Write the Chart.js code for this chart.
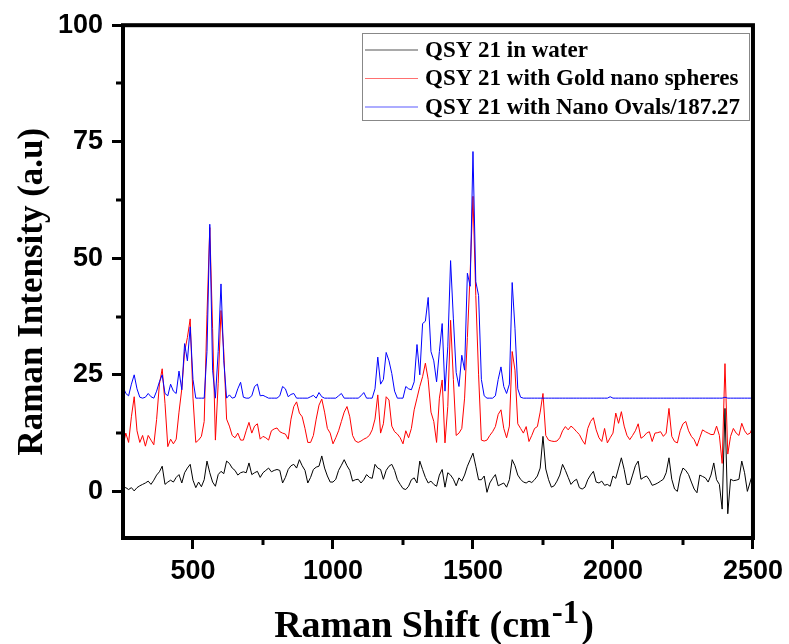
<!DOCTYPE html>
<html><head><meta charset="utf-8">
<script src="https://cdn.jsdelivr.net/npm/chart.js@4.4.1/dist/chart.umd.min.js"></script>
<style>html,body{margin:0;padding:0;background:#fff;}#wrap{width:789px;height:644px;}</style>
</head><body><div id="wrap"><canvas id="c" width="789" height="644"></canvas></div>
<script>
// Raman shift (cm-1)
const ramanShift = [
250,260,270,280,290,300,310,320,330,340,
350,360,370,380,390,400,410,420,430,440,
450,460,470,480,490,500,510,520,530,540,
550,560,570,580,590,600,610,620,630,640,
650,660,670,680,690,700,710,720,730,740,
750,760,770,780,790,800,810,820,830,840,
850,860,870,880,890,900,910,920,930,940,
950,960,970,980,990,1000,1010,1020,1030,1040,
1050,1060,1070,1080,1090,1100,1110,1120,1130,1140,
1150,1160,1170,1180,1190,1200,1210,1220,1230,1240,
1250,1260,1270,1280,1290,1300,1310,1320,1330,1340,
1350,1360,1370,1380,1390,1400,1410,1420,1430,1440,
1450,1460,1470,1480,1490,1500,1510,1520,1530,1540,
1550,1560,1570,1580,1590,1600,1610,1620,1630,1640,
1650,1660,1670,1680,1690,1700,1710,1720,1730,1740,
1750,1760,1770,1780,1790,1800,1810,1820,1830,1840,
1850,1860,1870,1880,1890,1900,1910,1920,1930,1940,
1950,1960,1970,1980,1990,2000,2010,2020,2030,2040,
2050,2060,2070,2080,2090,2100,2110,2120,2130,2140,
2150,2160,2170,2180,2190,2200,2210,2220,2230,2240,
2250,2260,2270,2280,2290,2300,2310,2320,2330,2340,
2350,2360,2370,2380,2390,2400,2410,2420,2430,2440,
2450,2460,2470,2480,2490,2500];

// QSY 21 in water
const waterIntensity = [
0.8,0.8,0.4,0.8,0.1,0.8,1.2,1.5,1.8,2.2,
1.5,2.4,3.5,4.2,5.4,1.5,2,2.4,2,3,
3.6,1.8,4,5,5.8,2.4,0.8,2,1,2.5,
6.5,4,2,1.1,3.6,4.3,3.8,6.5,6,5,
4.5,3.5,4,4.2,4,6.1,3.6,4,4.3,3,
4,4.5,5,4.2,4.5,4.7,4.5,1.8,3,4.7,
5.5,5.8,5,6.8,5.5,4.5,1.8,3,4.7,5.2,
5.4,7.6,5,3.3,2,2,2.6,4.5,5.6,6.8,
5.5,4.5,2.2,2.5,2.6,1.8,2.5,3.6,3,2.8,
5.8,5,4.7,2.6,4.5,5.4,5.8,4.5,2.5,1.5,
0.6,0.4,1.1,2.5,2.9,1.8,6.5,4.7,3,1.8,
2.2,1.5,1.1,3.5,4.7,0.9,4,3.5,2.6,1.2,
2.9,2.2,3.5,5.4,6.8,8.2,5.4,2.5,2.5,3.3,
-0.2,1.8,2.8,3.6,1.2,1.5,1.8,0.9,2.5,6.8,
5.5,3.5,2.6,2,1.8,2.2,1.9,2.5,3.3,5,
11.8,4.8,2.5,0.9,1.2,2.2,3.5,5.8,4.5,3,
1.5,2.2,2.6,0.8,0.5,0.9,2.5,3.5,4.3,2,
1.8,2.2,1.3,1.5,1.1,3.3,2.8,5,7.2,4.7,
1.5,1.5,3.5,5.5,6.5,2.6,3,3.3,2.5,1.3,
1.5,1.8,2.2,2.6,4,7.2,2.6,0.5,0,3.3,
5,4.5,3.6,2,0.5,-0.3,3.5,3.2,2.9,2,
3.5,6.1,2.5,1.5,-3.8,17.8,-4.8,2.6,2.3,2.4,
2.6,6.5,4,0,2,4];

// QSY 21 with Gold nano spheres
const goldSphereIntensity = [
9.7,12.5,10.5,16,20.3,13,10.5,12,9.7,12,
11,10,15.4,23,26.3,18.9,9.6,11.2,10.2,11.2,
17,22,30,33,37,20,10.5,11,11.8,15,
38,56.6,35,11,23.2,38.8,30,15.5,14,12,
11.5,12.5,11,11,13,14.8,12.5,14,14.5,11.2,
11.8,11.5,11,13,13.4,13.6,12.8,12.5,12.3,11.2,
15.5,18.2,19.2,16.8,16,13.5,10.5,10.5,12,15.5,
18.5,19.8,17,13.5,12.5,10.2,11.5,13,15,17,
18.2,16,12,10.8,10.5,10.8,11.2,11.5,12,13.2,
15.5,20.7,12.5,14.5,20.3,19.6,14,12.8,12.3,11.5,
10.2,13,11.5,13.5,17.5,20,22.5,24.6,27.5,24,
17,15,10.5,20,23.9,10.4,18.2,36.7,24,12,
12.5,13.5,20,33,47,63.3,42,25,11,10.8,
11,12,12.8,13.9,16.5,17.5,13.5,11.5,14,30,
26,14.5,13.5,12.5,13.9,10.7,12,13.5,13.9,17,
21,12,11,10.8,10.7,10.8,11.5,13,13.9,13.2,
14,13.5,12.8,12.2,11,10.1,13.5,15,15.8,13.2,
11.5,10.7,13.5,10.4,11.5,12.5,16.8,14.6,17.1,14,
12,11.1,12,13,14.5,11.4,11.8,12.5,12.8,10.7,
12.5,12.6,12.8,11.8,12.5,17.8,11.8,10.7,10.4,13,
14.5,15,13,11.8,11.1,9.7,11.5,13.2,12.8,12.5,
12.2,12.2,14,12,6,27.4,8,11.8,13.5,12.5,
12,14.6,13,12.2,12.5,14];

// QSY 21 with Nano Ovals / 187.27
const nanoOvalIntensity = [
22.5,21,20.5,23,25,22,20.2,20,20.2,21,
20.3,20,21.5,23.5,25,21,20.5,23,21.5,21,
25.8,21.8,31.7,28,35.3,24,20,20,20,20,
30,57.3,26,20,30,44.5,28,20,20.7,20,
20.2,22,23.4,20.2,20,20,20.5,22.5,23,20.5,
20.6,20.3,20,20,20,20,20.5,22.5,22,20.3,
20.8,21,20,20,20,20,20,20.3,20.6,20,
21.2,20.3,20,20,20,20,20,20.5,21,20,
20,20,20,20,20,20.5,21.2,20,20,20,
22,28.8,23,24,29.8,28,25.3,21.5,20,20,
20,22.5,22,21.8,23.5,31.5,25,36,36.5,41.6,
30,28,23.5,30,36,21.5,31,49.5,37,25.5,
22.5,29.2,26,46.8,44,72.9,45,42,24,20.5,
20,20,20,20.5,24,26.7,22.5,21,23,44.8,
35,22,20.2,20,20,20,20,20,20,20,
20,20,20,20,20,20,20,20,20,20,
20,20,20,20,20,20,20,20,20,20,
20,20,20,20,20.3,20,20,20,20,20,
20,20,20,20,20,20,20,20,20,20,
20,20,20,20,20,20,20,20,20,20,
20,20,20,20,20,20,20,20,20,20,
20,20,20,20,20,20.2,20,20,20,20,
20,20,20,20,20,20];

const seriesLabels = ['QSY 21 in water', 'QSY 21 with Gold nano spheres', 'QSY 21 with Nano Ovals/187.27'];
const seriesColors = ['#000000', '#ff0000', '#0000ff'];
const legendLineColors = ['#555555', '#ff7070', '#5a5aff'];
const xMajorTicks = [500, 1000, 1500, 2000, 2500];
const xMinorTicks = [750, 1250, 1750, 2250];
const yMajorTicks = [0, 25, 50, 75, 100];
const yMinorTicks = [12.5, 37.5, 62.5, 87.5];
const xTitleMain = 'Raman Shift (cm';
const xTitleSup = '-1';
const xTitleEnd = ')';
const yTitle = 'Raman Intensity (a.u)';

const toPoints = arr => ramanShift.map((x, i) => ({x: x, y: arr[i]}));
const seriesValues = [waterIntensity, goldSphereIntensity, nanoOvalIntensity];
const serif = '"Liberation Serif", "Times New Roman", serif';

const decorPlugin = {
  id: 'decor',
  afterDraw(chart) {
    const ctx = chart.ctx;
    const ca = chart.chartArea;
    const xs = chart.scales.x, ys = chart.scales.y;
    ctx.save();
    // frame
    ctx.strokeStyle = '#000';
    ctx.lineWidth = 4;
    ctx.strokeRect(ca.left, ca.top, ca.right - ca.left, ca.bottom - ca.top);
    // minor ticks
    ctx.lineWidth = 3;
    ctx.beginPath();
    xMinorTicks.forEach(v => {
      const p = Math.round(xs.getPixelForValue(v));
      ctx.moveTo(p, ca.bottom); ctx.lineTo(p, ca.bottom + 7);
    });
    yMinorTicks.forEach(v => {
      const p = Math.round(ys.getPixelForValue(v));
      ctx.moveTo(ca.left - 7, p); ctx.lineTo(ca.left, p);
    });
    ctx.stroke();
    ctx.fillStyle = '#000';
    // y title (rotated)
    ctx.save();
    ctx.font = 'bold 35px ' + serif;
    ctx.textAlign = 'center';
    ctx.textBaseline = 'alphabetic';
    ctx.translate(42, (ca.top + ca.bottom) / 2 + 10);
    ctx.rotate(-Math.PI / 2);
    ctx.fillText(yTitle, 0, 0);
    ctx.restore();
    // x title with superscript
    ctx.textBaseline = 'alphabetic';
    ctx.textAlign = 'left';
    const mainFont = 'bold 38px ' + serif;
    const supFont = 'bold 33px ' + serif;
    ctx.font = mainFont; const w1 = ctx.measureText(xTitleMain).width; const w3 = ctx.measureText(xTitleEnd).width;
    ctx.font = supFont; const w2 = ctx.measureText(xTitleSup).width;
    const cx = (ca.left + ca.right) / 2 - 4;
    const sx = cx - (w1 + w2 + w3 + 3) / 2;
    const base = 637;
    ctx.font = mainFont; ctx.fillText(xTitleMain, sx, base);
    ctx.font = supFont; ctx.fillText(xTitleSup, sx + w1 + 1, base - 14);
    ctx.font = mainFont; ctx.fillText(xTitleEnd, sx + w1 + w2 + 3, base);
    // legend
    const lx = 362.5, ly = 33.5, lw = 387, lh = 87;
    ctx.strokeStyle = '#888';
    ctx.lineWidth = 1;
    ctx.strokeRect(lx, ly, lw, lh);
    ctx.font = 'bold 23px ' + serif;
    ctx.textBaseline = 'middle';
    const rows = [50, 78.5, 107];
    chart.data.datasets.forEach((ds, i) => {
      const ry = rows[i];
      ctx.strokeStyle = legendLineColors[i];
      ctx.lineWidth = 1.2;
      ctx.beginPath(); ctx.moveTo(365, ry); ctx.lineTo(418, ry); ctx.stroke();
      ctx.fillStyle = '#000';
      ctx.fillText(ds.label, 425, ry + 1);
    });
    ctx.restore();
  }
};

const tickFont = {family: 'Liberation Sans', size: 27, weight: 'bold'};

new Chart(document.getElementById('c'), {
  type: 'line',
  data: {
    datasets: seriesValues.map((vals, i) => ({
      label: seriesLabels[i],
      data: toPoints(vals),
      borderColor: seriesColors[i],
      borderWidth: 1,
      pointRadius: 0,
      tension: 0,
      fill: false,
      order: 2 - i
    }))
  },
  options: {
    responsive: false,
    animation: false,
    events: [],
    layout: {padding: {top: 24, right: 33, left: 0, bottom: 0}},
    plugins: {legend: {display: false}, tooltip: {enabled: false}},
    scales: {
      x: {
        type: 'linear', min: 250, max: 2500,
        afterBuildTicks: s => { s.ticks = xMajorTicks.map(v => ({value: v})); },
        afterFit: s => { s.height = 106; },
        ticks: {font: tickFont, color: '#000', padding: 6, maxRotation: 0, autoSkip: false, callback: v => String(v)},
        grid: {display: true, drawOnChartArea: false, drawTicks: true, tickLength: 11, tickWidth: 3, tickColor: '#000'},
        border: {display: false}
      },
      y: {
        type: 'linear', min: -10, max: 100,
        afterBuildTicks: s => { s.ticks = yMajorTicks.map(v => ({value: v})); },
        afterFit: s => { s.width = 123; },
        ticks: {font: tickFont, color: '#000', padding: 9, autoSkip: false, callback: v => String(v)},
        grid: {display: true, drawOnChartArea: false, drawTicks: true, tickLength: 11, tickWidth: 3, tickColor: '#000'},
        border: {display: false}
      }
    }
  },
  plugins: [decorPlugin]
});
</script>
</body></html>
